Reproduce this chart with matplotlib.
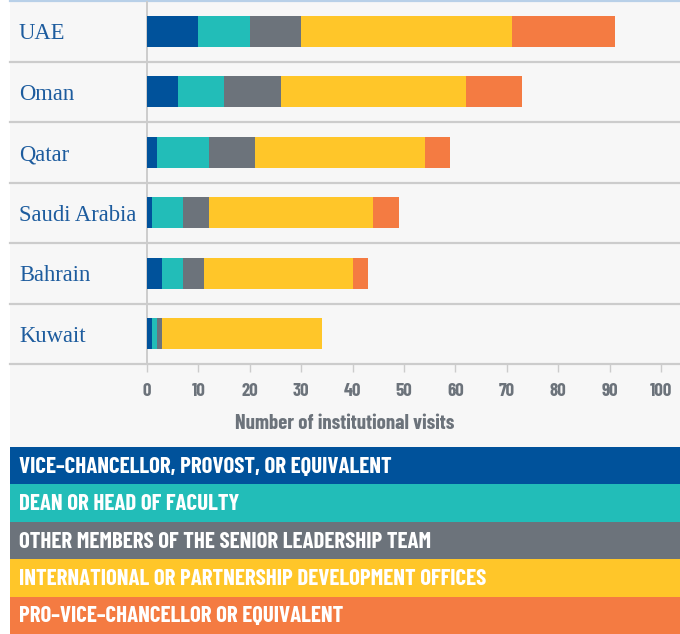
import matplotlib
matplotlib.use("Agg")
import matplotlib.pyplot as plt
from matplotlib.patches import Rectangle
from matplotlib import font_manager

countries = ["UAE", "Oman", "Qatar", "Saudi Arabia", "Bahrain", "Kuwait"]
vice_chancellor = [10, 6, 2, 1, 3, 1]
dean = [10, 9, 10, 6, 4, 1]
other_senior = [10, 11, 9, 5, 4, 1]
intl_offices = [41, 36, 33, 32, 29, 31]
pro_vice = [20, 11, 5, 5, 3, 0]
series_labels = [
    "VICE–CHANCELLOR, PROVOST, OR EQUIVALENT",
    "DEAN OR HEAD OF FACULTY",
    "OTHER MEMBERS OF THE SENIOR LEADERSHIP TEAM",
    "INTERNATIONAL OR PARTNERSHIP DEVELOPMENT OFFICES",
    "PRO–VICE–CHANCELLOR OR EQUIVALENT",
]
x_ticks = [0, 10, 20, 30, 40, 50, 60, 70, 80, 90, 100]
x_label = "Number of institutional visits"

colors = ["#00529b", "#22bdb8", "#6c737b", "#ffc629", "#f47b42"]

avail = {f.name for f in font_manager.fontManager.ttflist}
narrow = "Barlow Condensed" if "Barlow Condensed" in avail else "DejaVu Sans"
serif = "Liberation Serif"

W, H = 680, 634
fig = plt.figure(figsize=(W / 100, H / 100), dpi=100, facecolor="white")

fig.patches.append(Rectangle((10 / W, 0), 670 / W, 1, transform=fig.transFigure,
                             facecolor="#f7f7f7", edgecolor="none", zorder=-10))

ax_left, ax_right = 10, 680
ax_top, ax_bot = 1, 364
ax = fig.add_axes([ax_left / W, 1 - ax_bot / H, (ax_right - ax_left) / W, (ax_bot - ax_top) / H])
ax.set_facecolor("none")

px_per_unit = (661 - 147) / 100.0
xmin = -(147 - ax_left) / px_per_unit
xmax = (ax_right - 147) / px_per_unit
ax.set_xlim(xmin, xmax)
ax.set_ylim(len(countries) - 0.5, -0.5)

series = [vice_chancellor, dean, other_senior, intl_offices, pro_vice]
left = [0] * len(countries)
for vals, c in zip(series, colors):
    ax.barh(range(len(countries)), vals, left=left, height=0.51, color=c, zorder=3)
    left = [l + v for l, v in zip(left, vals)]

for i in range(1, len(countries) + 1):
    ax.axhline(i - 0.5, color="#cccccc", lw=1.6, zorder=2, clip_on=False)
ax.axhline(-0.5, color="#b8d0e8", lw=1.6, zorder=2, clip_on=False)
ax.axvline(0, color="#cccccc", lw=1.4, zorder=2, ymin=0, ymax=1)

for i, name in enumerate(countries):
    ax.text(xmin + 9 / px_per_unit, i + 0.04, name, ha="left", va="center",
            fontsize=16.3, family=serif, color="#1d5c9e", zorder=4)

for s in ax.spines.values():
    s.set_visible(False)
ax.set_yticks([])
ax.set_xticks(x_ticks)
ax.set_xticklabels([str(t) for t in x_ticks])
ax.tick_params(axis="x", length=6, width=1, color="#cccccc", pad=8,
               labelsize=13.5, labelcolor="#6c737b")
for lbl in ax.get_xticklabels():
    lbl.set_family(narrow)
    lbl.set_fontweight("bold")
ax.set_xlabel(x_label, fontsize=15, family=narrow, fontweight="bold",
              color="#6c737b", labelpad=10)

band_top = 447
band_h = (H - band_top) / len(series_labels)
for i, (lab, c) in enumerate(zip(series_labels, colors)):
    y0 = band_top + i * band_h
    fig.patches.append(Rectangle((10 / W, 1 - (y0 + band_h) / H), 670 / W, band_h / H,
                                 transform=fig.transFigure, facecolor=c, edgecolor="none", zorder=1))
    fig.text(19 / W, 1 - (y0 + band_h / 2 + 1) / H, lab, ha="left", va="center",
             fontsize=16.5, family=narrow, fontweight="bold", color="white", zorder=2)

fig.savefig("out.png", dpi=100, facecolor="white")
